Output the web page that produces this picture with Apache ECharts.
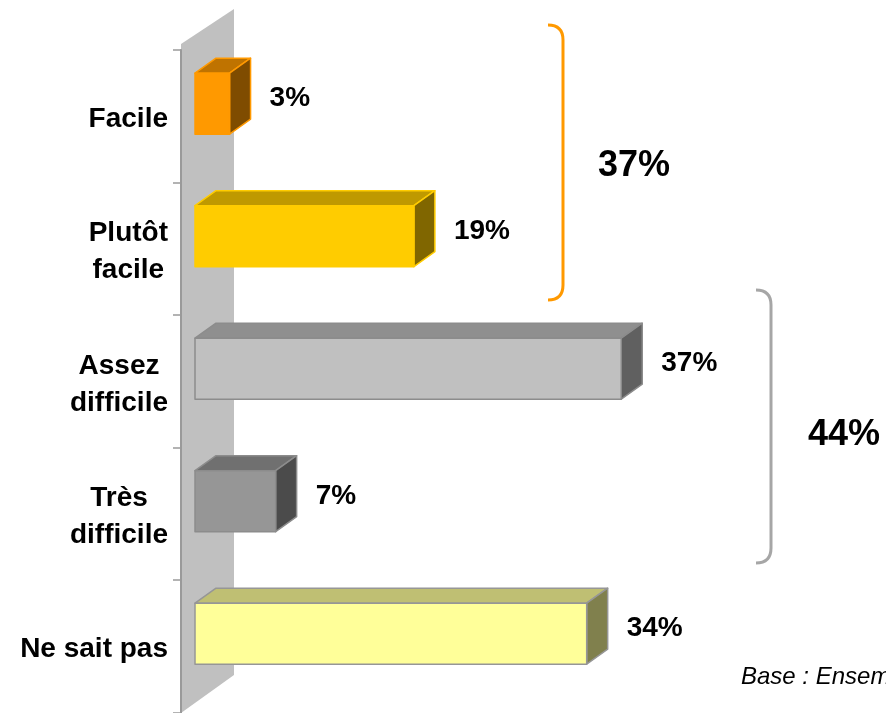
<!DOCTYPE html>
<html>
<head>
<meta charset="utf-8">
<script src="https://cdn.jsdelivr.net/npm/echarts@6/dist/echarts.min.js"></script>
<style>
html, body { margin: 0; padding: 0; background: #fff; }
#chart { width: 886px; height: 713px; }
</style>
</head>
<body>
<div id="chart"></div>
<script>
// data
var categories = ['Facile', 'Plutôt\nfacile', 'Assez\ndifficile', 'Très\ndifficile', 'Ne sait pas']
var values = [3, 19, 37, 7, 34]
var groupLabels = ['37%', '44%']
var baseText = 'Base : Ensemble'

// colours of the boxes: front / top / side / edge
var frontColors = ['#FF9900', '#FFCC00', '#C0C0C0', '#969696', '#FFFF99']
var topColors = ['#BF7300', '#BF9900', '#8F8F8F', '#707070', '#BFBF73']
var sideColors = ['#7F4C00', '#806600', '#606060', '#4B4B4B', '#80804D']
var edgeColors = ['#FF9900', '#FFCC00', '#8C8C8C', '#8C8C8C', '#969696']

var font = "'Liberation Sans', Arial, sans-serif"
var depthX = 21, depthY = -15

function renderBox(params, api) {
    var i = params.dataIndex
    var v = api.value(0)
    var p0 = api.coord([0, api.value(1)])
    var p1 = api.coord([v, api.value(1)])
    var slot = api.size([0, 1])[1]
    var h = slot * 0.46
    var top = p0[1] - slot * 0.325
    var bottom = top + h
    var x0 = p0[0], x1 = p1[0]
    var edge = { stroke: edgeColors[i], lineWidth: 1.5, lineJoin: 'round' }
    return {
        type: 'group',
        children: [
            {
                type: 'polygon',
                shape: { points: [[x0, top], [x0 + depthX, top + depthY], [x1 + depthX, top + depthY], [x1, top]] },
                style: Object.assign({ fill: topColors[i] }, edge)
            },
            {
                type: 'polygon',
                shape: { points: [[x1, top], [x1 + depthX, top + depthY], [x1 + depthX, bottom + depthY], [x1, bottom]] },
                style: Object.assign({ fill: sideColors[i] }, edge)
            },
            {
                type: 'rect',
                shape: { x: x0, y: top, width: x1 - x0, height: h },
                style: Object.assign({ fill: frontColors[i] }, edge)
            },
            {
                type: 'text',
                style: {
                    text: v + '%',
                    x: x1 + depthX + 19,
                    y: (top + bottom) / 2 - 5,
                    fill: '#000',
                    font: 'bold 28px ' + font,
                    align: 'left',
                    verticalAlign: 'middle'
                }
            }
        ]
    }
}

// bracket made of two curved ends and a straight line
function bracket(x, y1, y2, color) {
    var r = 15
    var st = { stroke: color, lineWidth: 3, fill: 'none' }
    return {
        type: 'group',
        z: 10,
        children: [
            { type: 'bezierCurve', shape: { x1: x - r, y1: y1, x2: x, y2: y1 + r, cpx1: x, cpy1: y1 }, style: st },
            { type: 'line', shape: { x1: x, y1: y1 + r, x2: x, y2: y2 - r }, style: st },
            { type: 'bezierCurve', shape: { x1: x, y1: y2 - r, x2: x - r, y2: y2, cpx1: x, cpy1: y2 }, style: st }
        ]
    }
}

var chart = echarts.init(document.getElementById('chart'))
var option = {
    animation: false,
    grid: {
        left: 195,
        top: 50,
        width: 576,
        height: 662.5,
        outerBoundsMode: 'none'
    },
    xAxis: {
        type: 'value',
        min: 0,
        max: 50,
        show: false
    },
    yAxis: {
        type: 'category',
        inverse: true,
        data: categories,
        offset: 14,
        axisLine: { show: true, onZero: false, lineStyle: { color: '#9A9A9A', width: 2 } },
        axisTick: { show: true, inside: false, length: 8, lineStyle: { color: '#9A9A9A', width: 1.5 } },
        axisLabel: {
            margin: 13,
            align: 'right',
            padding: [7, 0, 0, 0],
            formatter: function (v) {
                return v.split('\n').map(function (s) { return '{c|' + s + '}' }).join('\n')
            },
            rich: {
                c: {
                    align: 'center',
                    color: '#000',
                    fontSize: 28,
                    fontWeight: 'bold',
                    fontFamily: font,
                    lineHeight: 37
                }
            }
        },
        splitLine: { show: false }
    },
    graphic: [
        {
            type: 'polygon',
            z: -1,
            shape: { points: [[181, 44], [234, 9], [234, 675], [181, 713]] },
            style: { fill: '#C0C0C0' }
        },
        bracket(563, 25, 300, '#FF9900'),
        bracket(771, 290, 563, '#A6A6A6'),
        {
            type: 'text',
            z: 10,
            style: { text: groupLabels[0], x: 634, y: 166, fill: '#000', font: 'bold 36px ' + font, align: 'center', verticalAlign: 'middle' }
        },
        {
            type: 'text',
            z: 10,
            style: { text: groupLabels[1], x: 808, y: 435, fill: '#000', font: 'bold 36px ' + font, align: 'left', verticalAlign: 'middle' }
        },
        {
            type: 'text',
            z: 10,
            style: { text: baseText, x: 741, y: 677, fill: '#000', font: 'italic 24px ' + font, align: 'left', verticalAlign: 'middle' }
        }
    ],
    series: [
        {
            type: 'custom',
            renderItem: renderBox,
            data: values.map(function (v, i) { return [v, i] }),
            encode: { x: 0, y: 1 },
            z: 2
        }
    ]
}
chart.setOption(option)
</script>
</body>
</html>
